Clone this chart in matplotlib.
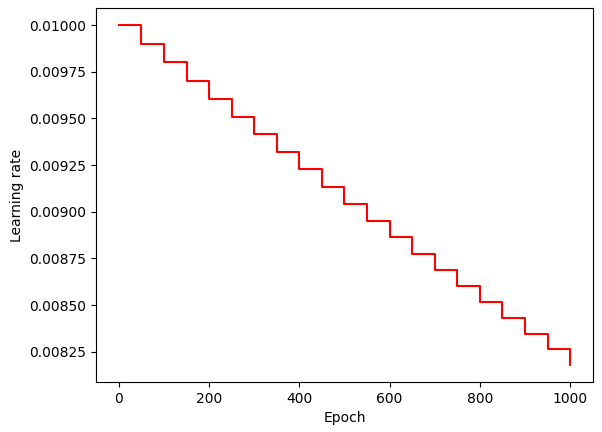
import matplotlib
matplotlib.use("Agg")
import matplotlib.pyplot as plt

# step boundaries (epochs) and the learning rate held from each one
epochs = [0, 50, 100, 150, 200, 250, 300, 350, 400, 450, 500,
          550, 600, 650, 700, 750, 800, 850, 900, 950, 1000]
lrs = [0.01, 0.0099, 0.009801, 0.009703, 0.009606, 0.00951, 0.009415,
       0.009321, 0.009227, 0.009135, 0.009044, 0.008953, 0.008864,
       0.008775, 0.008687, 0.008601, 0.008515, 0.008429, 0.008345,
       0.008262, 0.008179]

fig, ax = plt.subplots(figsize=(6.02, 4.32), dpi=100)
fig.subplots_adjust(left=0.160, right=0.9845, top=0.981, bottom=0.116)
ax.step(epochs, lrs, where='post', color='r')
ax.set_xlabel('Epoch')
ax.set_ylabel('Learning rate')
fig.savefig('out.png')
